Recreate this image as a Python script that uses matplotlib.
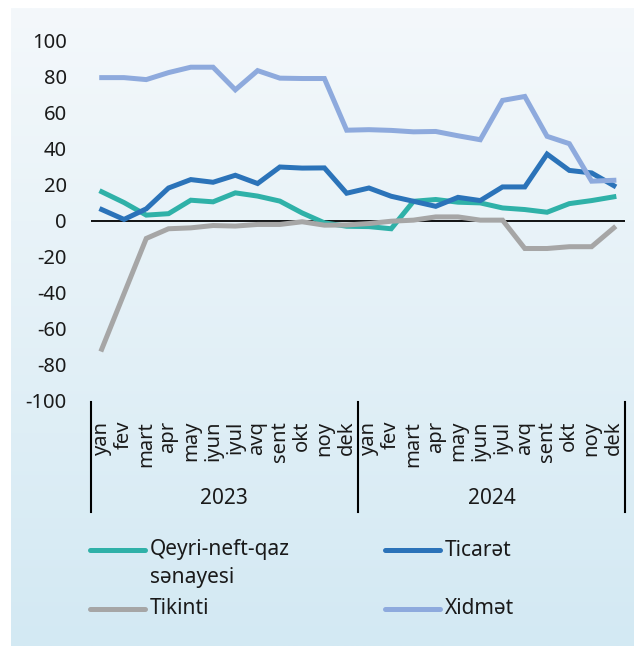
import numpy as np
import matplotlib.pyplot as plt
from matplotlib.lines import Line2D
from matplotlib.colors import LinearSegmentedColormap
import matplotlib.transforms as mtransforms

plt.rcParams['font.family'] = ['Noto Sans', 'DejaVu Sans']
plt.rcParams['axes.unicode_minus'] = False

# Dane
years = ['2023', '2024']
months = ['yan', 'fev', 'mart', 'apr', 'may', 'iyun', 'iyul', 'avq', 'sent', 'okt', 'noy', 'dek']

qeyri = [16.0, 10.0, 3.0, 3.8, 11.3, 10.4, 15.4, 13.6, 10.8, 4.2, -1.3, -3.2,
         -3.4, -4.6, 10.7, 11.7, 10.2, 9.8, 7.0, 6.1, 4.6, 9.4, 11.1, 13.2]
ticaret = [6.1, 0.6, 6.5, 18.1, 22.8, 21.3, 25.2, 20.6, 29.8, 29.2, 29.3, 15.2,
           18.1, 13.5, 10.7, 7.9, 12.9, 11.1, 18.7, 18.7, 37.0, 27.9, 26.5, 19.4]
tikinti = [-71.7, -40.8, -10.0, -4.6, -4.1, -2.8, -3.1, -2.2, -2.2, -0.7, -2.6, -2.5,
           -1.7, -0.4, 0.2, 2.0, 2.0, 0.2, 0.2, -15.6, -15.6, -14.6, -14.6, -4.1]
xidmet = [79.6, 79.6, 78.5, 82.4, 85.4, 85.4, 72.8, 83.5, 79.3, 79.1, 79.1, 50.3,
          50.6, 50.2, 49.4, 49.6, 47.2, 45.0, 66.9, 69.1, 46.9, 42.8, 21.9, 22.4]

names = ['Qeyri-neft-qaz\nsənayesi', 'Ticarət', 'Tikinti', 'Xidmət']
colors = ['#2fb1a8', '#2b73b9', '#a6a6a6', '#8eaadd']
series = [qeyri, ticaret, tikinti, xidmet]

W, H = 634, 646
fig = plt.figure(figsize=(W / 100, H / 100), dpi=100)

# Tło z gradientem
bg = fig.add_axes([11 / W, 0, 1 - 11 / W, (H - 8) / H], zorder=-10)
cmap = LinearSegmentedColormap.from_list('bg', ['#f4f8fb', '#d3e9f3'])
bg.imshow(np.linspace(0, 1, 256).reshape(-1, 1), aspect='auto', cmap=cmap, extent=[0, 1, 0, 1])
bg.axis('off')

# Wykres główny
left, right, top, bottom = 90.6, 625, 41, 400
ax = fig.add_axes([left / W, 1 - bottom / H, (right - left) / W, (bottom - top) / H])
ax.set_facecolor('none')

labels_x = [m for y in years for m in months]
x = np.arange(len(labels_x))

ax.axhline(0, color='black', lw=1.3, zorder=1)
for s, c in zip(series, colors):
    ax.plot(x, s, color=c, lw=3.6, solid_joinstyle='miter', zorder=2)

ax.set_xlim(-0.5, len(x) - 0.5)
ax.set_ylim(-100, 100)
ax.set_yticks(range(-100, 101, 20))
ax.tick_params(axis='y', length=0, pad=17, labelsize=14.5, labelcolor='#1a1a1a')
ax.set_xticks(x)
ax.set_xticklabels(labels_x, rotation=90, fontsize=14.5, color='#1a1a1a')
ax.tick_params(axis='x', length=0, pad=15)
for sp in ax.spines.values():
    sp.set_visible(False)

# Linie oddzielające lata i podpisy lat
trans = mtransforms.blended_transform_factory(ax.transData, ax.transAxes)
y0 = -2 / (bottom - top)
y1 = -112 / (bottom - top)
for xb in [-0.5, 11.5, 23.5]:
    ax.add_line(Line2D([xb, xb], [y0, y1], color='black', lw=1.5, transform=trans, clip_on=False))
for i, yr in enumerate(years):
    ax.text(i * 12 + 5.5, -98 / (bottom - top), yr, transform=trans, ha='center', va='center',
            fontsize=15, color='#1a1a1a')

# Legenda (ręcznie, żeby wiersze były wyrównane)
leg_pos = [(90, 550), (385, 550), (90, 609), (385, 609)]
for (lx, ly), name, c in zip(leg_pos, names, colors):
    fig.add_artist(Line2D([lx / W, (lx + 55) / W], [1 - ly / H, 1 - ly / H], color=c, lw=3.6,
                          solid_capstyle='round'))
    if '\n' in name:
        fig.text((lx + 60) / W, 1 - (ly - 11) / H, name, ha='left', va='top', fontsize=15,
                 color='#1a1a1a', linespacing=1.45)
    else:
        fig.text((lx + 60) / W, 1 - ly / H, name, ha='left', va='center', fontsize=15, color='#1a1a1a')

fig.savefig('out.png', dpi=100)
